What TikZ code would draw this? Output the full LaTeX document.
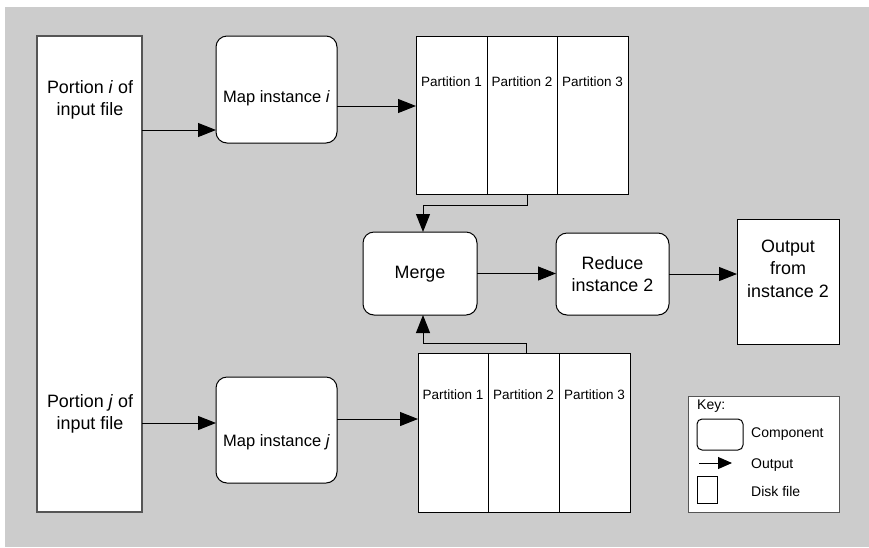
\documentclass[tikz,border=0pt]{standalone}
\usepackage{fontspec}
\setmainfont{Liberation Sans}
\usetikzlibrary{arrows.meta}
\definecolor{bggray}{RGB}{204,204,204}
\definecolor{edgegray}{RGB}{85,85,85}
\begin{document}
\begin{tikzpicture}[x=1pt,y=-1pt,
  box/.style={draw=black, line width=1pt, fill=white, inner sep=0pt, outer sep=0pt, anchor=north west},
  comp/.style={box, rounded corners=11pt},
  big/.style={font=\fontsize{17.9}{22.5}\selectfont, align=center, inner sep=0pt},
  mid/.style={font=\fontsize{16.5}{20}\selectfont, align=center, inner sep=0pt},
  small/.style={font=\fontsize{13.5}{16}\selectfont, inner sep=0pt},
  keytext/.style={font=\fontsize{14}{16}\selectfont, inner sep=0pt, anchor=west},
  arr/.style={line width=1pt, -{Triangle[length=18pt,width=14pt]}},
  keyarr/.style={line width=1pt, -{Triangle[length=14pt,width=12pt]}}]
\useasboundingbox (0,0) rectangle (869,547);
\fill[bggray] (5,7) rectangle (869,547);

% input file
\node[box, draw=edgegray, line width=1.5pt, minimum width=105pt, minimum height=476pt] (inp) at (37,36) {};
\node[big] (inpi) at (90,100) {Portion \textit{i} of\\input file};
\node[big] (inpj) at (90,414) {Portion \textit{j} of\\input file};

% map instances
\node[comp, minimum width=121pt, minimum height=107pt] (mapi) at (216,36) {};
\node[mid] (mapit) at (276.5,98) {Map instance \textit{i}};
\node[comp, minimum width=121pt, minimum height=106pt] (mapj) at (216,377) {};
\node[mid] (mapjt) at (276.5,442) {Map instance \textit{j}};

% partitions top
\node[box, minimum width=71pt, minimum height=158pt] (pa1) at (416,36) {};
\node[box, minimum width=70pt, minimum height=158pt] (pa2) at (487,36) {};
\node[box, minimum width=71pt, minimum height=158pt] (pa3) at (557,36) {};
\node[small] (pa1t) at (451.5,82) {Partition 1};
\node[small] (pa2t) at (522,82) {Partition 2};
\node[small] (pa3t) at (592.5,82) {Partition 3};

% partitions bottom
\node[box, minimum width=70pt, minimum height=159pt] (pb1) at (418,353) {};
\node[box, minimum width=71pt, minimum height=159pt] (pb2) at (488,353) {};
\node[box, minimum width=71pt, minimum height=159pt] (pb3) at (559,353) {};
\node[small] (pb1t) at (453,395) {Partition 1};
\node[small] (pb2t) at (523.5,395) {Partition 2};
\node[small] (pb3t) at (594.5,395) {Partition 3};

% merge, reduce, output
\node[comp, minimum width=114pt, minimum height=83pt] (merge) at (363,232) {};
\node[big] (merget) at (420,274) {Merge};
\node[comp, minimum width=113pt, minimum height=82pt] (reduce) at (556,233) {};
\node[big] (reducet) at (612.5,274) {Reduce\\instance 2};
\node[box, minimum width=102pt, minimum height=125pt] (out) at (737,219) {};
\node[big] (outt) at (788,268.5) {Output\\from\\instance 2};

% key
\node[box, draw=edgegray, minimum width=151pt, minimum height=116pt] (key) at (688,396) {};
\node[keytext] (keyt) at (697,406) {Key:};
\node[box, rounded corners=5pt, minimum width=46pt, minimum height=31pt] (kcomp) at (697,419) {};
\node[keytext] (kcompt) at (751,434) {Component};
\coordinate (ka) at (699,463);
\coordinate (kb) at (732,463);
\draw[keyarr] (ka) -- (kb);
\node[keytext] (koutt) at (751,465) {Output};
\node[box, minimum width=20pt, minimum height=27pt] (kdisk) at (697,476) {};
\node[keytext] (kdiskt) at (751,491) {Disk file};

% connectors
\coordinate (y1) at (0,130);
\coordinate (y2) at (0,106);
\coordinate (y3) at (0,423);
\coordinate (y4) at (0,419);
\draw[arr] (inp.east |- y1) -- (mapi.west |- y1);
\draw[arr] (mapi.east |- y2) -- (pa1.west |- y2);
\draw[arr] (inp.east |- y3) -- (mapj.west |- y3);
\draw[arr] (mapj.east |- y4) -- (pb1.west |- y4);

\coordinate (c1) at (527,205);
\coordinate (c2) at (423,205);
\draw[arr] (pa2.south -| c1) -- (c1) -- (c2) -- (merge.north -| c2);
\coordinate (d1) at (526,343);
\coordinate (d2) at (423,343);
\draw[arr] (pb2.north -| d1) -- (d1) -- (d2) -- (merge.south -| d2);

\draw[arr] (merge.east) -- (merge.east -| reduce.west);
\draw[arr] (reduce.east) -- (reduce.east -| out.west);
\end{tikzpicture}
\end{document}
